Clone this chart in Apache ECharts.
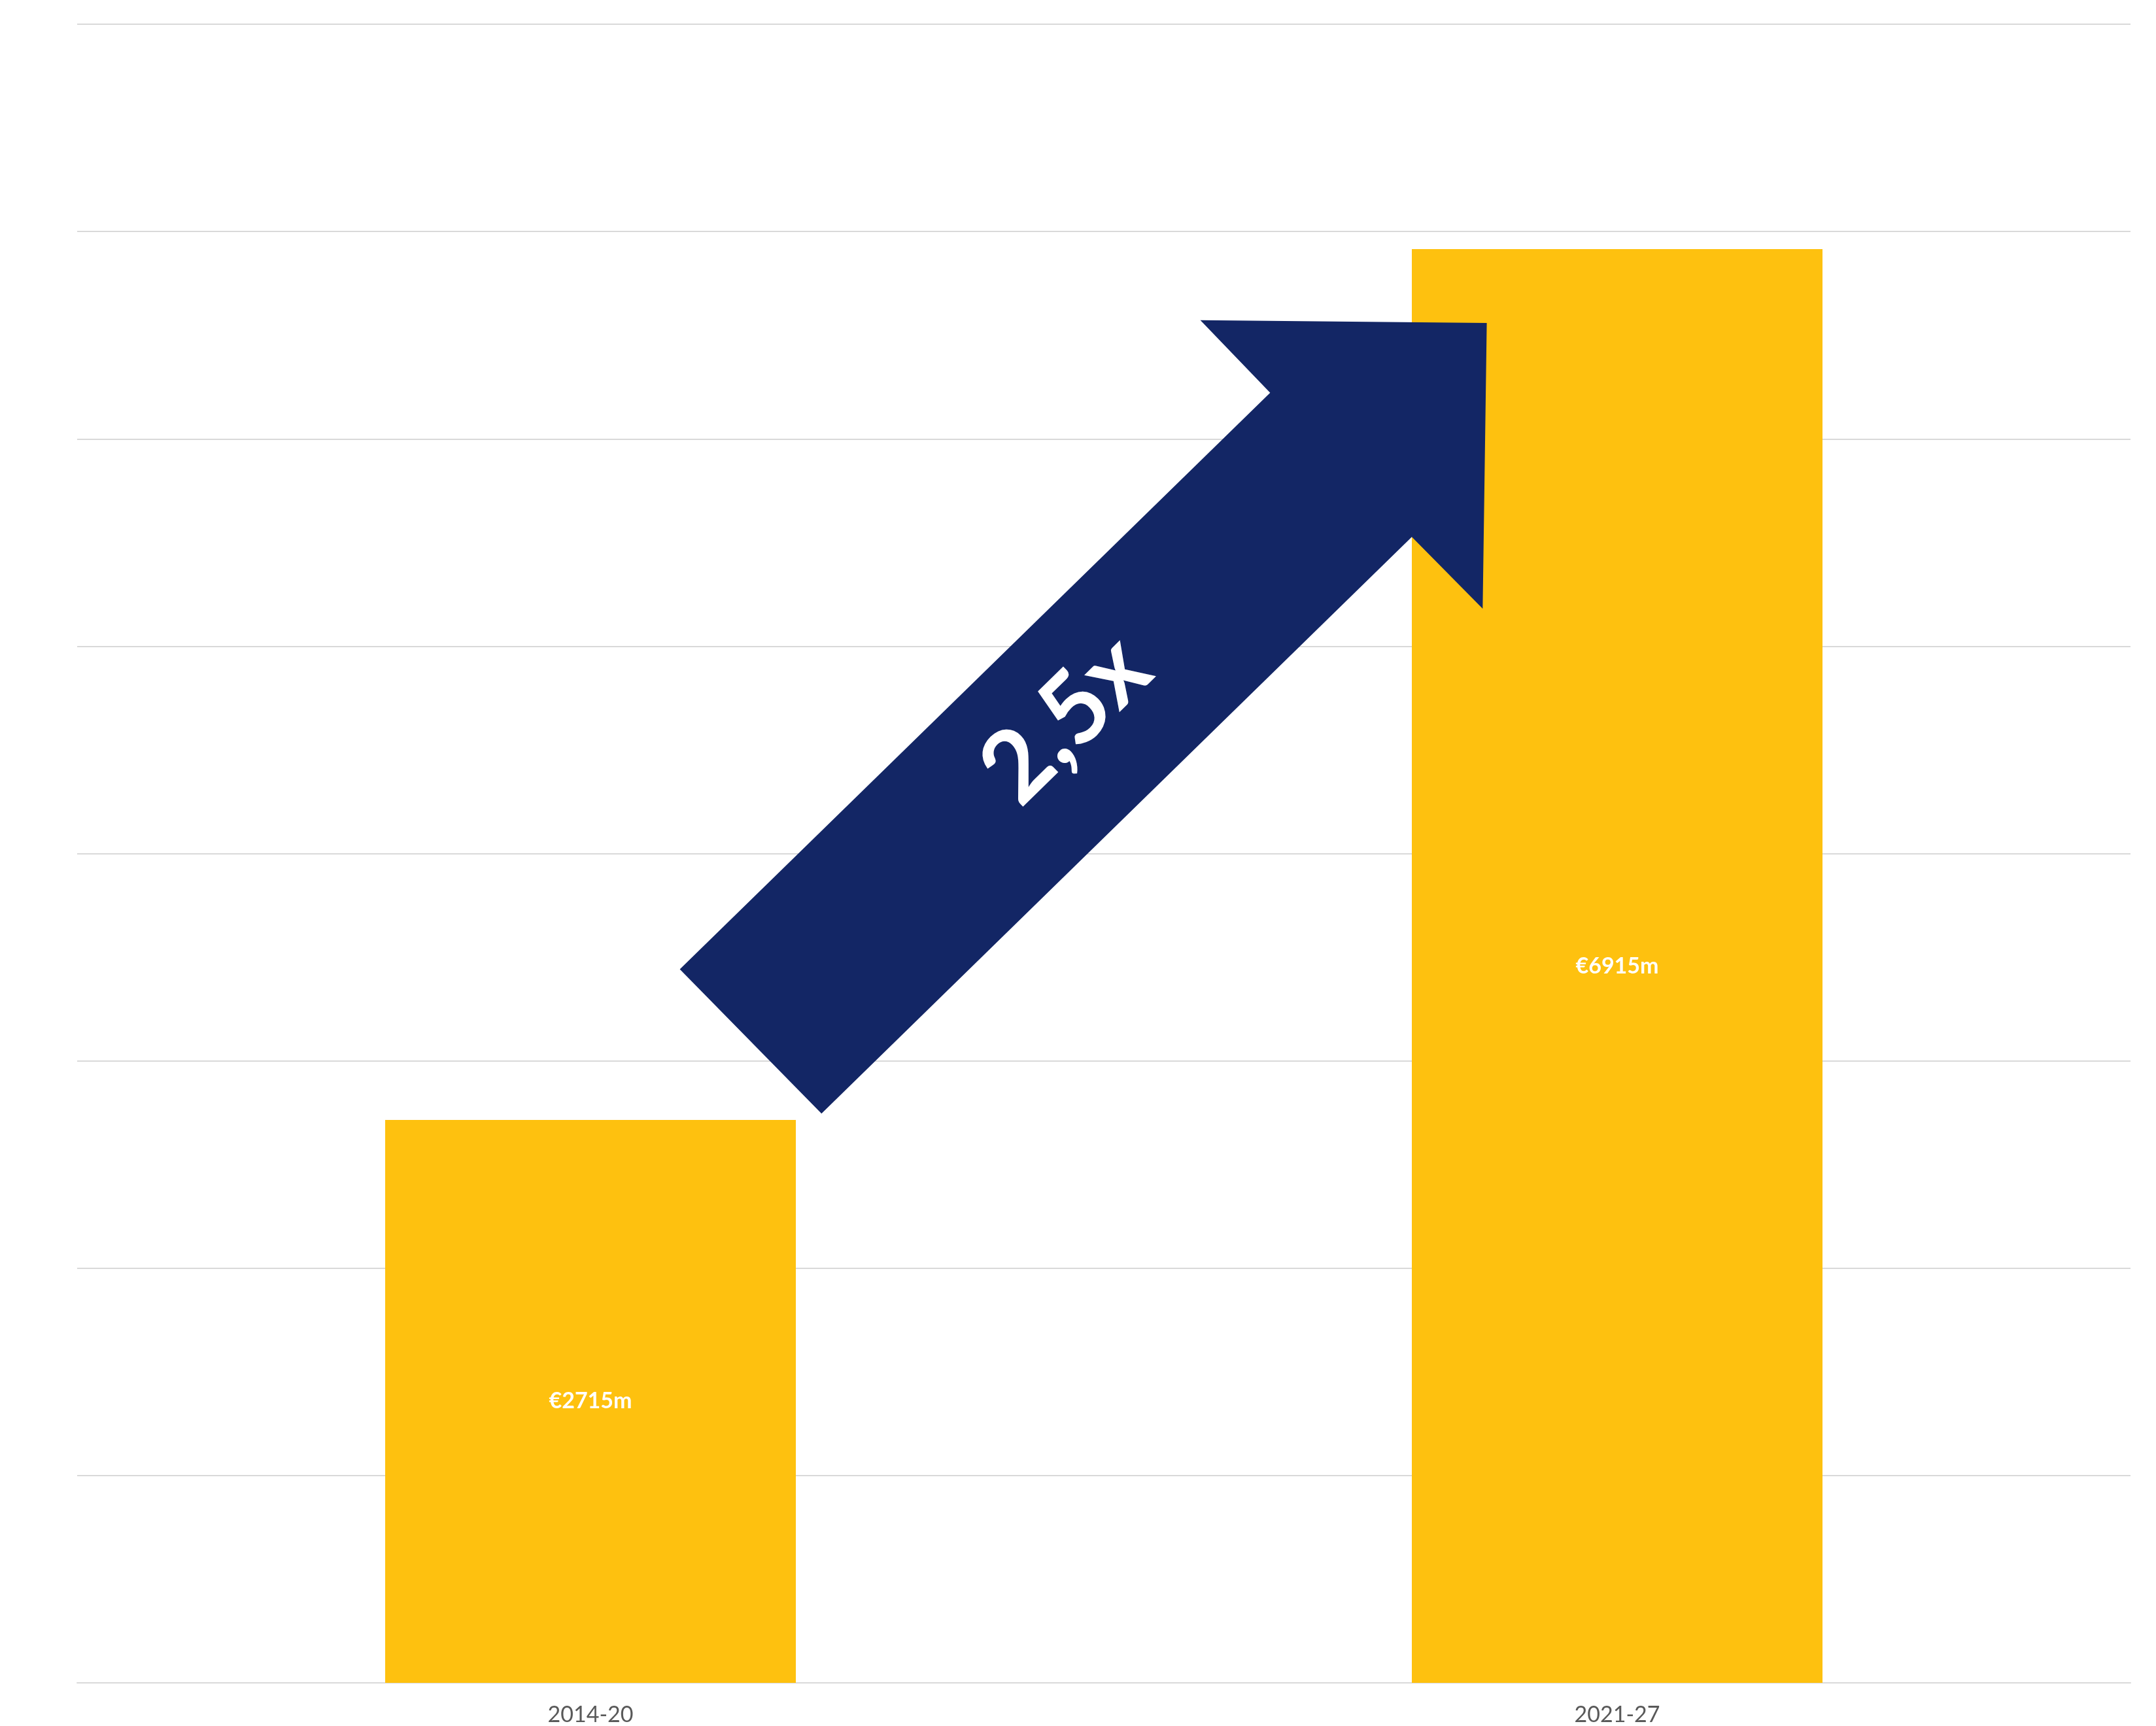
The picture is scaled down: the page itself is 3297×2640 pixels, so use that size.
<!DOCTYPE html>
<html>
<head>
<meta charset="utf-8">
<script src="https://cdn.jsdelivr.net/npm/echarts@6/dist/echarts.min.js"></script>
<style>
    html, body { margin: 0; padding: 0; background: #fff; }
    #chart { width: 3297px; height: 2640px; }
</style>
</head>
<body>
<div id="chart"></div>
<script>
const periods = ['2014-20', '2021-27'];
const funding = [2715, 6915];
const fundingLabels = ['€2715m', '€6915m'];

// growth arrow, in data space: [category position, value]
const arrowPoints = [
    [0.087, 3442], [0.662, 6222], [0.594, 6572], [0.873, 6559],
    [0.869, 5181], [0.800, 5527], [0.225, 2746]
];
const arrowText = '2,5x';
const arrowTextAt = [0.463, 4645];

const chart = echarts.init(document.getElementById('chart'));

chart.setOption({
    animation: false,
    grid: { left: 118, right: 39, top: 37, bottom: 60 },
    xAxis: {
        type: 'category',
        data: periods,
        axisLine: { lineStyle: { color: '#d9d9d9', width: 2 } },
        axisTick: { show: false },
        axisLabel: { color: '#595959', fontSize: 34, fontFamily: 'Lato', margin: 32 }
    },
    yAxis: {
        type: 'value',
        min: 0,
        max: 8000,
        interval: 1000,
        axisLabel: { show: false },
        axisLine: { show: false },
        axisTick: { show: false },
        splitLine: { lineStyle: { color: '#d9d9d9', width: 2 } }
    },
    series: [{
        type: 'bar',
        data: funding,
        barWidth: '40%',
        itemStyle: { color: '#fec10f' },
        label: {
            show: true,
            position: 'inside',
            color: '#fff',
            fontSize: 34,
            fontWeight: 'bold',
            fontFamily: 'Lato',
            formatter: function (p) {
                return fundingLabels[p.dataIndex];
            }
        }
    }]
});

// category axis rounds fractional indexes, so interpolate between the two centres
function toPx(pt) {
    const a = chart.convertToPixel({ seriesIndex: 0 }, [0, pt[1]]);
    const b = chart.convertToPixel({ seriesIndex: 0 }, [1, pt[1]]);
    return [a[0] + pt[0] * (b[0] - a[0]), a[1]];
}

const textPos = toPx(arrowTextAt);
chart.setOption({
    graphic: [
        {
            type: 'polygon',
            shape: { points: arrowPoints.map(toPx) },
            style: { fill: '#132665' },
            z: 10
        },
        {
            type: 'text',
            x: textPos[0],
            y: textPos[1],
            rotation: 44.4 * Math.PI / 180,
            style: {
                text: arrowText,
                fill: '#fff',
                font: 'bold 152px Lato',
                align: 'center',
                verticalAlign: 'middle'
            },
            z: 11
        }
    ]
});
</script>
</body>
</html>
